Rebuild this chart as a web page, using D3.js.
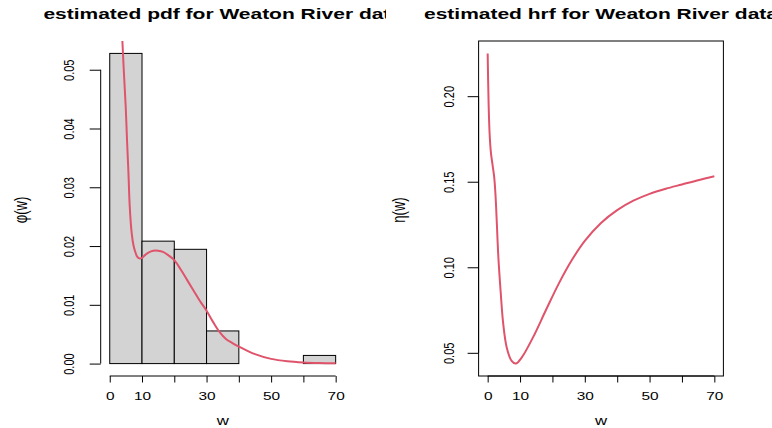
<!DOCTYPE html>
<html>
<head>
<meta charset="utf-8">
<script src="https://cdn.jsdelivr.net/npm/d3@7"></script>
<style>
  body { margin: 0; background: #fff; }
  svg { display: block; }
</style>
</head>
<body>
<script>
// histogram of the data (72 obs)
var breaks = [0, 10, 20, 30, 40, 50, 60, 70];
var counts = [38, 15, 14, 4, 0, 0, 1];

// fitted pdf
var pdfW = [3.5, 3.9, 4.4, 4.95, 5.35, 5.8, 6.2, 6.8, 7.4, 7.8, 8.5, 9.2, 10, 11, 12, 13.5, 15, 16.5, 18,
            20, 22, 24, 26, 28, 30, 32, 34, 36, 38, 40, 45, 50, 55, 60, 65, 70];
var pdfV = [0.0600, 0.0551, 0.0494, 0.0437, 0.0381, 0.0324, 0.0267, 0.0222, 0.0200, 0.0192, 0.0182, 0.0179,
            0.0180, 0.0185, 0.0189, 0.0192, 0.0192, 0.0190, 0.0185, 0.0176, 0.0160, 0.0142, 0.0124, 0.0106,
            0.0090, 0.0071, 0.0054, 0.0042, 0.0035, 0.0029, 0.0016, 0.0008, 0.0004, 0.0002, 0.0001, 0.00005];

// fitted hrf
var hrfW = [0, 0.3, 0.6, 1.0, 1.5, 2.0, 2.4, 2.8, 3.3, 4.0, 4.8, 5.9, 7.4, 8.7, 10.5, 14, 18, 22, 26,
            30, 35, 40, 45, 50, 55, 60, 65, 70];
var hrfV = [0.225, 0.195, 0.178, 0.167, 0.160, 0.153, 0.143, 0.127, 0.106, 0.086, 0.067, 0.053, 0.0453, 0.0437,
            0.0472, 0.059, 0.075, 0.0906, 0.1042, 0.1154, 0.1259, 0.1334, 0.1389, 0.1429, 0.1459, 0.1484,
            0.1509, 0.1532];

var xTicks = [0, 10, 20, 30, 40, 50, 60, 70];
var xLabels = [0, 10, 30, 50, 70];
var pdfTicks = [0, 0.01, 0.02, 0.03, 0.04, 0.05];
var hrfTicks = [0.05, 0.10, 0.15, 0.20];

var W = 772, H = 428;
var red = '#DF536B';
var SX = 1.4;   // picture is stretched sideways

var svg = d3.select('body').append('svg')
    .attr('width', W)
    .attr('height', H)
    .style('font-family', '"Liberation Sans", Arial, Helvetica, sans-serif');

var defs = svg.append('defs');

function make_panel(p) {

  var x = d3.scaleLinear().domain([-2.8, 72.8]).range([p.left, p.right]);
  var ypad = 0.04 * (p.ymax - p.ymin);
  var y = d3.scaleLinear().domain([p.ymin - ypad, p.ymax + ypad]).range([376, 41]);

  defs.append('clipPath').attr('id', p.id + '_fig')
    .append('rect').attr('x', p.ox).attr('y', 0).attr('width', 386).attr('height', H);
  defs.append('clipPath').attr('id', p.id + '_plot')
    .append('rect').attr('x', p.left).attr('y', 41).attr('width', p.right - p.left).attr('height', 376 - 41);

  var g = svg.append('g').attr('clip-path', 'url(#' + p.id + '_fig)');

  // x axis
  var gx = g.append('g')
    .attr('transform', 'translate(0,376)')
    .call(d3.axisBottom(x).tickValues(xTicks).tickSize(6.5).tickSizeOuter(0)
      .tickFormat(function(d){ return xLabels.indexOf(d) >= 0 ? d : ''; }));
  gx.select('.domain').attr('d', 'M' + x(xTicks[0]) + ',0H' + x(xTicks[xTicks.length - 1]));
  gx.selectAll('text')
    .attr('y', null).attr('dy', null)
    .attr('transform', 'translate(0,23.5) scale(' + SX + ',1)')
    .style('font-size', '11px');

  // y axis
  var gy = g.append('g')
    .attr('transform', 'translate(' + p.left + ',0)')
    .call(d3.axisLeft(y).tickValues(p.yTicks).tickSize(11).tickSizeOuter(0).tickFormat(d3.format('.2f')));
  gy.select('.domain').attr('d', 'M0,' + y(p.yTicks[0]) + 'V' + y(p.yTicks[p.yTicks.length - 1]));
  gy.selectAll('text')
    .attr('x', null).attr('dy', null)
    .attr('text-anchor', 'middle')
    .attr('transform', 'translate(' + (-p.ylabOff) + ',0) scale(' + SX + ',1) rotate(-90)')
    .style('font-size', '11px');

  g.selectAll('.tick line, .domain').attr('stroke', '#000');

  p.draw(g, x, y);

  if (p.box) {
    g.append('rect')
      .attr('x', p.left).attr('y', 41)
      .attr('width', p.right - p.left).attr('height', 376 - 41)
      .attr('fill', 'none').attr('stroke', '#000');
  }

  var line = d3.line()
    .x(function(d){ return x(d[0]); })
    .y(function(d){ return y(d[1]); })
    .curve(d3.curveCatmullRom.alpha(0.5));

  g.append('path')
    .datum(d3.zip(p.cw, p.cv))
    .attr('clip-path', 'url(#' + p.id + '_plot)')
    .attr('d', line)
    .attr('fill', 'none')
    .attr('stroke', red)
    .attr('stroke-width', 2);

  var cx = (p.left + p.right) / 2;

  g.append('text')
    .attr('transform', 'translate(' + cx + ',19) scale(1.5,1)')
    .attr('text-anchor', 'middle')
    .style('font-size', '14px')
    .style('font-weight', 'bold')
    .text(p.title);

  g.append('text')
    .attr('transform', 'translate(' + cx + ',425) scale(' + SX + ',1)')
    .attr('text-anchor', 'middle')
    .style('font-size', '12px')
    .text('w');

  g.append('text')
    .attr('transform', 'translate(' + (p.left - p.ytitleOff) + ',210) scale(' + SX + ',1) rotate(-90)')
    .attr('text-anchor', 'middle')
    .style('font-size', '13px')
    .text(p.ytitle);
}

var n = d3.sum(counts);
var dens = counts.map(function(c, i){ return c / (n * (breaks[i + 1] - breaks[i])); });

make_panel({
  id: 'pdf', ox: 0, left: 100.7, right: 344.7,
  ymin: 0, ymax: d3.max(dens), yTicks: pdfTicks,
  ylabOff: 26.4, ytitleOff: 73.7,
  title: 'estimated pdf for Weaton River data', ytitle: 'φ(w)',
  cw: pdfW, cv: pdfV, box: false,
  draw: function(g, x, y) {
    g.append('g').selectAll('rect')
      .data(dens)
      .join('rect')
      .attr('x', function(d, i){ return x(breaks[i]); })
      .attr('width', function(d, i){ return x(breaks[i + 1]) - x(breaks[i]); })
      .attr('y', function(d){ return y(d); })
      .attr('height', function(d){ return y(0) - y(d); })
      .attr('fill', '#D3D3D3')
      .attr('stroke', '#000')
      .attr('stroke-width', 1);
  }
});

make_panel({
  id: 'hrf', ox: 386, left: 478.6, right: 723.4,
  ymin: d3.min(hrfV), ymax: d3.max(hrfV), yTicks: hrfTicks,
  ylabOff: 24.3, ytitleOff: 73.7,
  title: 'estimated hrf for Weaton River data', ytitle: 'η(w)',
  cw: hrfW, cv: hrfV, box: true,
  draw: function(){}
});
</script>
</body>
</html>
